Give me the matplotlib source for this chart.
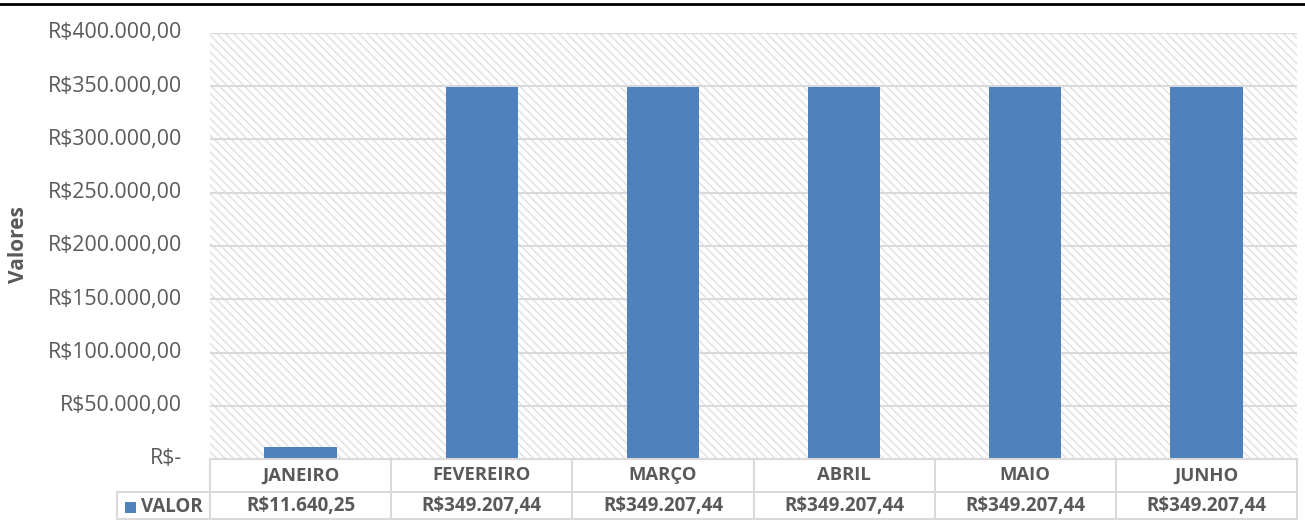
import matplotlib
matplotlib.use("Agg")
import matplotlib.pyplot as plt
from matplotlib.lines import Line2D
from matplotlib.patches import Rectangle
import matplotlib.transforms as mtransforms

meses = ["JANEIRO", "FEVEREIRO", "MARÇO", "ABRIL", "MAIO", "JUNHO"]
valores = [11640.25, 349207.44, 349207.44, 349207.44, 349207.44, 349207.44]
serie = "VALOR"
yticks = [0, 50000, 100000, 150000, 200000, 250000, 300000, 350000, 400000]

AZUL = "#4F81BD"
CINZA_TXT = "#595959"
CINZA_LIN = "#D9D9D9"
CINZA_HATCH = "#E0E0E0"

plt.rcParams["font.family"] = ["Open Sans", "DejaVu Sans"]
plt.rcParams["hatch.linewidth"] = 1.0


def brl(v):
    if v == 0:
        return "R$-"
    s = f"{v:,.2f}".replace(",", "X").replace(".", ",").replace("X", ".")
    return "R$" + s


W, H = 1305, 520
fig = plt.figure(figsize=(W / 100, H / 100), dpi=100)
ax = fig.add_axes([210 / W, 1 - 459 / H, 1087 / W, 426 / H])

ax.set_facecolor("white")
ax.add_patch(Rectangle((0, 0), 1, 1, transform=ax.transAxes, facecolor="white",
                       edgecolor=CINZA_HATCH, linewidth=0, hatch="\\" * 4, zorder=0))

x = list(range(len(meses)))
ax.bar(x, valores, width=0.4, color=AZUL, zorder=3)

ax.set_xlim(-0.5, len(meses) - 0.5)
ax.set_ylim(0, 400000)
ax.set_yticks(yticks)
ax.set_yticklabels([brl(v) for v in yticks])
ax.set_xticks([])
ax.tick_params(axis="y", length=0, pad=20, labelsize=15.3, labelcolor=CINZA_TXT)
for lab in ax.get_yticklabels():
    lab.set_verticalalignment("center")
ax.grid(axis="y", color=CINZA_LIN, linewidth=1.5, zorder=1)
ax.set_axisbelow(True)
for sp in ax.spines.values():
    sp.set_visible(False)

fig.text(18 / W, 1 - 245 / H, "Valores", rotation=90, ha="center", va="center",
         fontsize=15, fontweight="bold", color=CINZA_TXT)

# tabela de dados
tr = mtransforms.blended_transform_factory(ax.transData, ax.transAxes)
ah = 426.0
y_r1 = -33 / ah
y_r2 = -60 / ah
x_leg = (117 - 210) / 1087 * len(meses) - 0.5
xr = len(meses) - 0.5


def linha(xs, ys):
    ax.add_line(Line2D(xs, ys, transform=tr, color=CINZA_LIN, linewidth=1.5,
                       clip_on=False, zorder=4))


linha([-0.5, xr], [0, 0])
linha([x_leg, xr], [y_r1, y_r1])
linha([x_leg, xr], [y_r2, y_r2])
for i in range(len(meses) + 1):
    linha([i - 0.5, i - 0.5], [0, y_r2])
linha([x_leg, x_leg], [y_r1, y_r2])

for i, (m, v) in enumerate(zip(meses, valores)):
    ax.text(i, y_r1 / 2, m, transform=tr, ha="center", va="center",
            fontsize=13.3, fontweight="bold", color=CINZA_TXT)
    ax.text(i, (y_r1 + y_r2) / 2, brl(v), transform=tr, ha="center", va="center",
            fontsize=13.5, fontweight="bold", color=CINZA_TXT)

fig.add_artist(Rectangle((125 / W, 1 - 513 / H), 11 / W, 11 / H,
                         transform=fig.transFigure, facecolor=AZUL, edgecolor="none"))
fig.text(141 / W, 1 - 507 / H, serie, ha="left", va="center", fontsize=13.5,
         fontweight="bold", color=CINZA_TXT)

# borda superior
fig.add_artist(Line2D([0, 1], [1 - 4 / H, 1 - 4 / H], transform=fig.transFigure,
                      color="black", linewidth=2))

fig.savefig("out.png", dpi=100)
